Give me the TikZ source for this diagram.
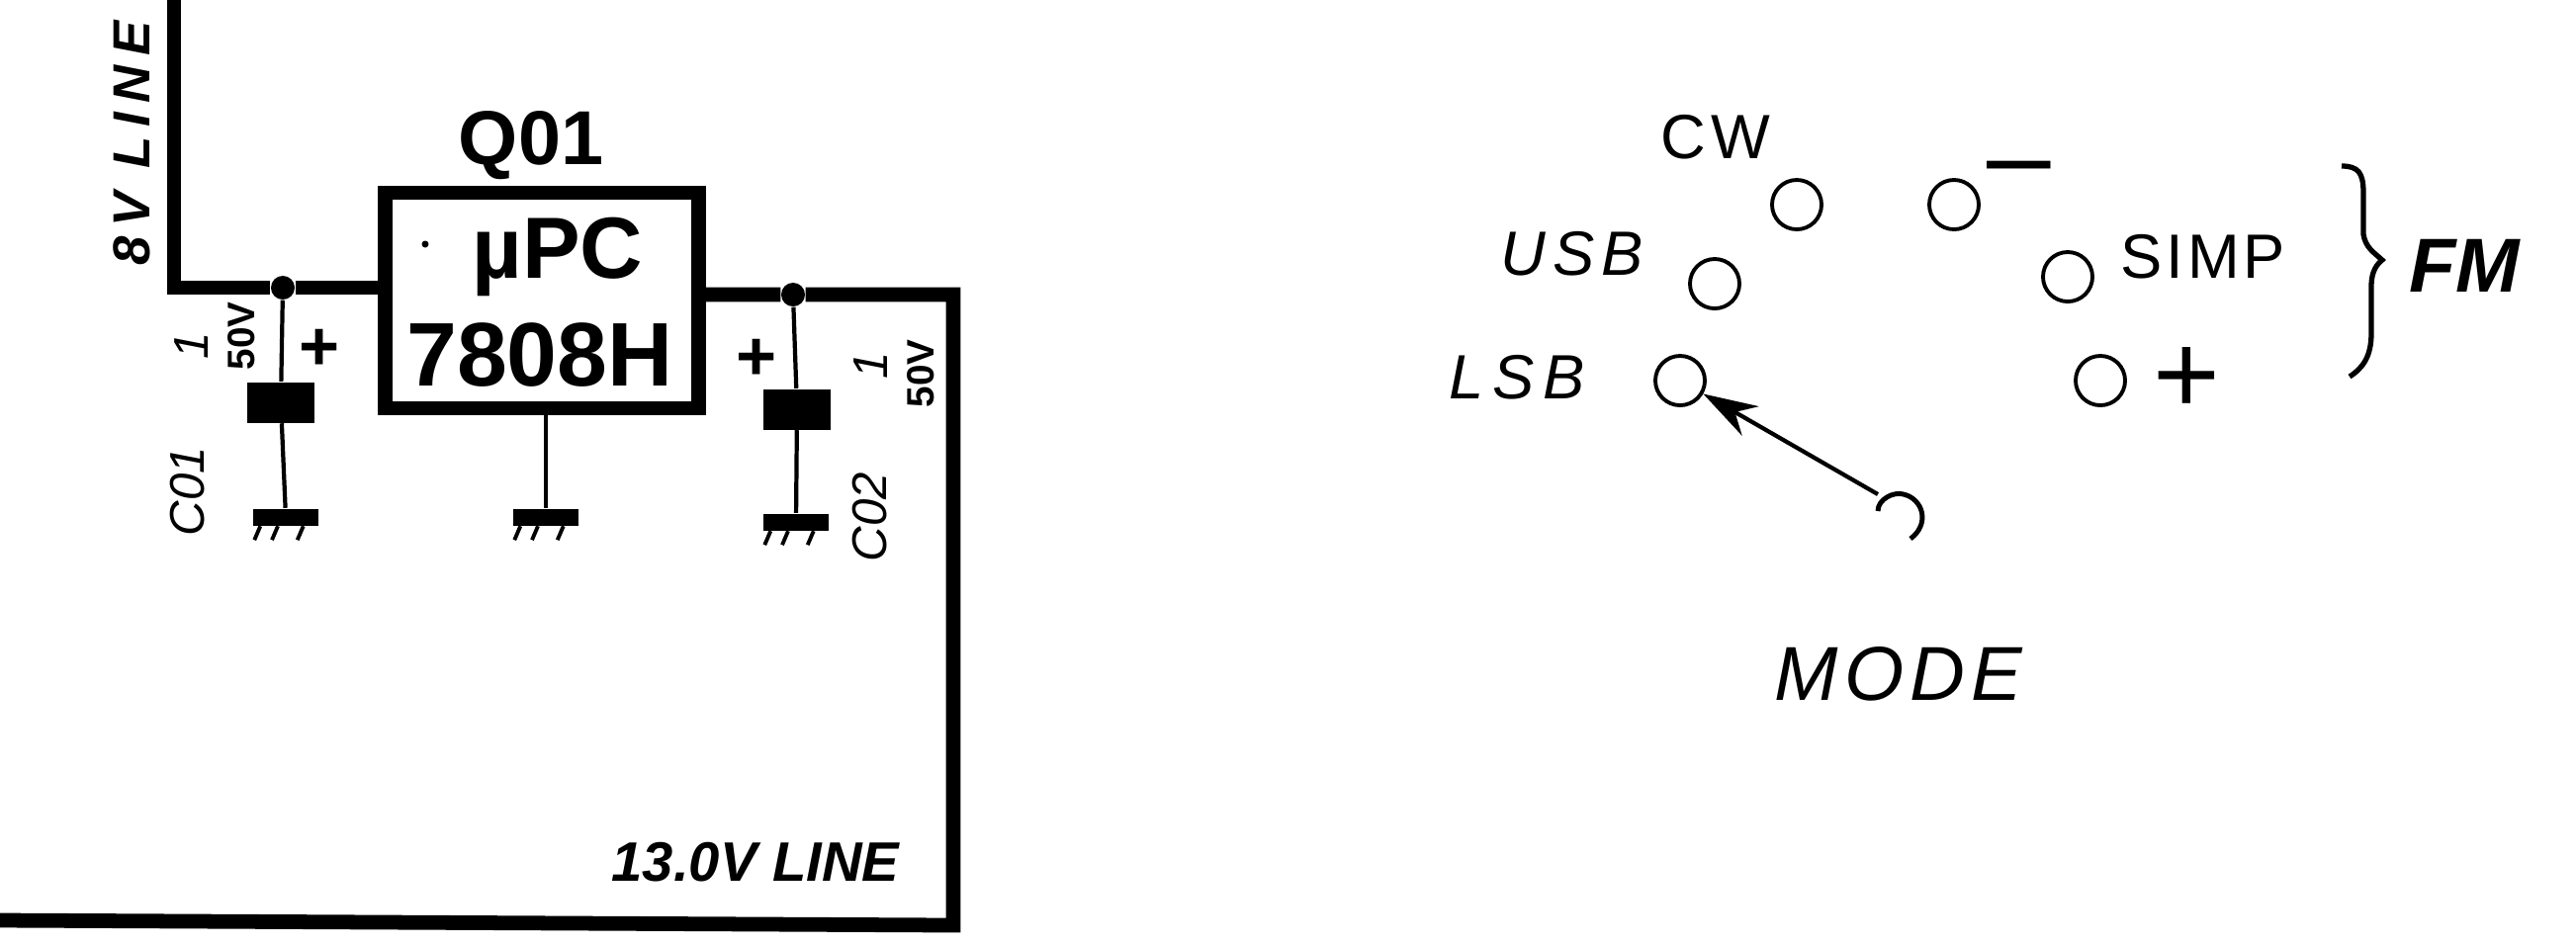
\documentclass[tikz,border=0pt]{standalone}
\usepackage{fontspec}
\setmainfont{Liberation Sans}
\newcommand{\spaced}[1]{\addfontfeatures{LetterSpace=#1}}
\usetikzlibrary{arrows.meta}
\tikzset{
  bus/.style = {line width=4.2pt, line join=miter},
  lead/.style = {line width=1.2pt},
  tick/.style = {line width=1.1pt},
  junc/.style = {circle, fill, inner sep=0pt, minimum size=.24cm},
  capblock/.style = {rectangle, fill, inner sep=0pt, minimum width=.68cm, minimum height=.41cm},
  gndblock/.style = {rectangle, fill, inner sep=0pt, minimum width=.66cm, minimum height=.17cm},
  contact/.style = {circle, draw, line width=1.1pt, inner sep=0pt, minimum size=.5cm},
  lbl/.style = {inner sep=0pt, font=\fontsize{18}{18}\selectfont},
  ital/.style = {inner sep=0pt, font=\fontsize{18}{18}\selectfont\itshape},
  hard/.style = {inner sep=0pt, font=\fontsize{26}{26}\selectfont\bfseries},
  sideways/.style = {inner sep=0pt, rotate=90, font=\fontsize{14}{14}\selectfont\itshape},
  small sideways/.style = {inner sep=0pt, rotate=90, font=\fontsize{11}{11}\selectfont\bfseries}
}
\begin{document}
\begin{tikzpicture}[x=0.01cm, y=-0.01cm]
  \useasboundingbox (0,0) rectangle (2605,956);
  % regulator
  \node[draw, line width=4.2pt, minimum width=3.17cm, minimum height=2.18cm, inner sep=0pt] (q01) at (548,304) {};
  \node[hard, font=\fontsize{22}{22}\selectfont\bfseries] (q01name) at (537,147) {Q01};
  \node[hard, font=\fontsize{25}{25}\selectfont\bfseries] (type1) at (564,260) {µPC};
  \node[hard] (type2) at (546,359) {7808H};
  \node[fill, circle, inner sep=0pt, minimum size=.07cm] (mark) at (430,247) {};
  % junctions, capacitors, grounds
  \node[junc] (j1) at (286,291) {};
  \node[junc] (j2) at (802,298) {};
  \node[capblock] (c1) at (284,407) {};
  \node[capblock] (c2) at (806,414) {};
  \node[gndblock] (g1) at (289,523) {};
  \node[gndblock] (g2) at (552,523) {};
  \node[gndblock] (g3) at (805,528) {};
  \coordinate (vtop) at (176,0);
  \coordinate (rcorner) at (964,936);
  \coordinate (lend) at (0,931);
  % wires
  \draw[bus] (vtop) |- (j1) -- (q01.west |- j1);
  \draw[bus] (q01.east |- j2) -- (j2) -| (rcorner) -- (lend);
  \draw[lead] (j1) -- (c1) -- (g1);
  \draw[lead] (j2) -- (c2) -- (g3);
  \draw[lead] (q01.south -| g2) -- (g2);
  \foreach \g in {g1, g2, g3} {
    \draw[tick] (\g.south west) ++(8,0) -- ++(-6,14);
    \draw[tick] (\g.south) ++(-8,0) -- ++(-6,14);
    \draw[tick] (\g.south east) ++(-16,0) -- ++(-6,14);
  }
  % labels
  \node[sideways, font=\fontsize{15}{15}\selectfont\bfseries\itshape\spaced{18}] (vline) at (133,145) {8V LINE};
  \node[ital, font=\fontsize{16}{16}\selectfont\bfseries\itshape] (mline) at (764,872) {13.0V LINE};
  \node[lbl, font=\fontsize{20}{20}\selectfont\bfseries] (p1) at (323,354) {+};
  \node[lbl, font=\fontsize{20}{20}\selectfont\bfseries] (p2) at (765,364) {+};
  \node[small sideways] (v1) at (244,340) {50V};
  \node[small sideways] (v2) at (931,378) {50V};
  \node[sideways] (u1) at (194,350) {1};
  \node[sideways] (u2) at (881,370) {1};
  \node[sideways] (c1name) at (190,497) {C01};
  \node[sideways] (c2name) at (880,523) {C02};
  % mode switch
  \node[contact] (cw) at (1817,207) {};
  \node[contact] (minus) at (1976,207) {};
  \node[contact] (usb) at (1734,287) {};
  \node[contact] (simp) at (2091,280) {};
  \node[contact] (lsb) at (1699,385) {};
  \node[contact] (plus) at (2124,385) {};
  \coordinate (wiper) at (1899,500);
  \draw[lead, -{Stealth[length=.55cm, width=.34cm, inset=.18cm]}] (wiper) -- (lsb);
  \draw[lead, line width=1.4pt] (1899,517) .. controls (1899,505) and (1915,497) .. (1925,500)
    .. controls (1945,505) and (1952,530) .. (1932,545);
  \node[lbl, font=\fontsize{18}{18}\selectfont\spaced{8}] (cwname) at (1735,139) {CW};
  \node[lbl, font=\fontsize{33}{33}\selectfont] (minuslbl) at (2042,180) {–};
  \node[ital, font=\fontsize{18}{18}\selectfont\itshape\spaced{11}] (usbname) at (1590,257) {USB};
  \node[ital, font=\fontsize{18}{18}\selectfont\itshape\spaced{14}] (lsbname) at (1534,382) {LSB};
  \node[lbl, font=\fontsize{18}{18}\selectfont\spaced{6}] (simpname) at (2228,260) {SIMP};
  \node[lbl, font=\fontsize{33}{33}\selectfont] (pluslbl) at (2211,385) {+};
  \node[ital, font=\fontsize{22}{22}\selectfont\bfseries\itshape] (fmname) at (2492,269) {FM};
  \node[ital, font=\fontsize{22}{22}\selectfont\itshape\spaced{8}] (modename) at (1920,682) {MODE};
  \draw[line width=1.5pt] (2368,168) .. controls (2385,168) and (2390,175) .. (2390,195)
    -- (2390,237) .. controls (2392,250) and (2400,255) .. (2409,263)
    .. controls (2400,270) and (2398,280) .. (2398,290) -- (2398,337)
    .. controls (2398,360) and (2390,372) .. (2376,381);
\end{tikzpicture}
\end{document}
